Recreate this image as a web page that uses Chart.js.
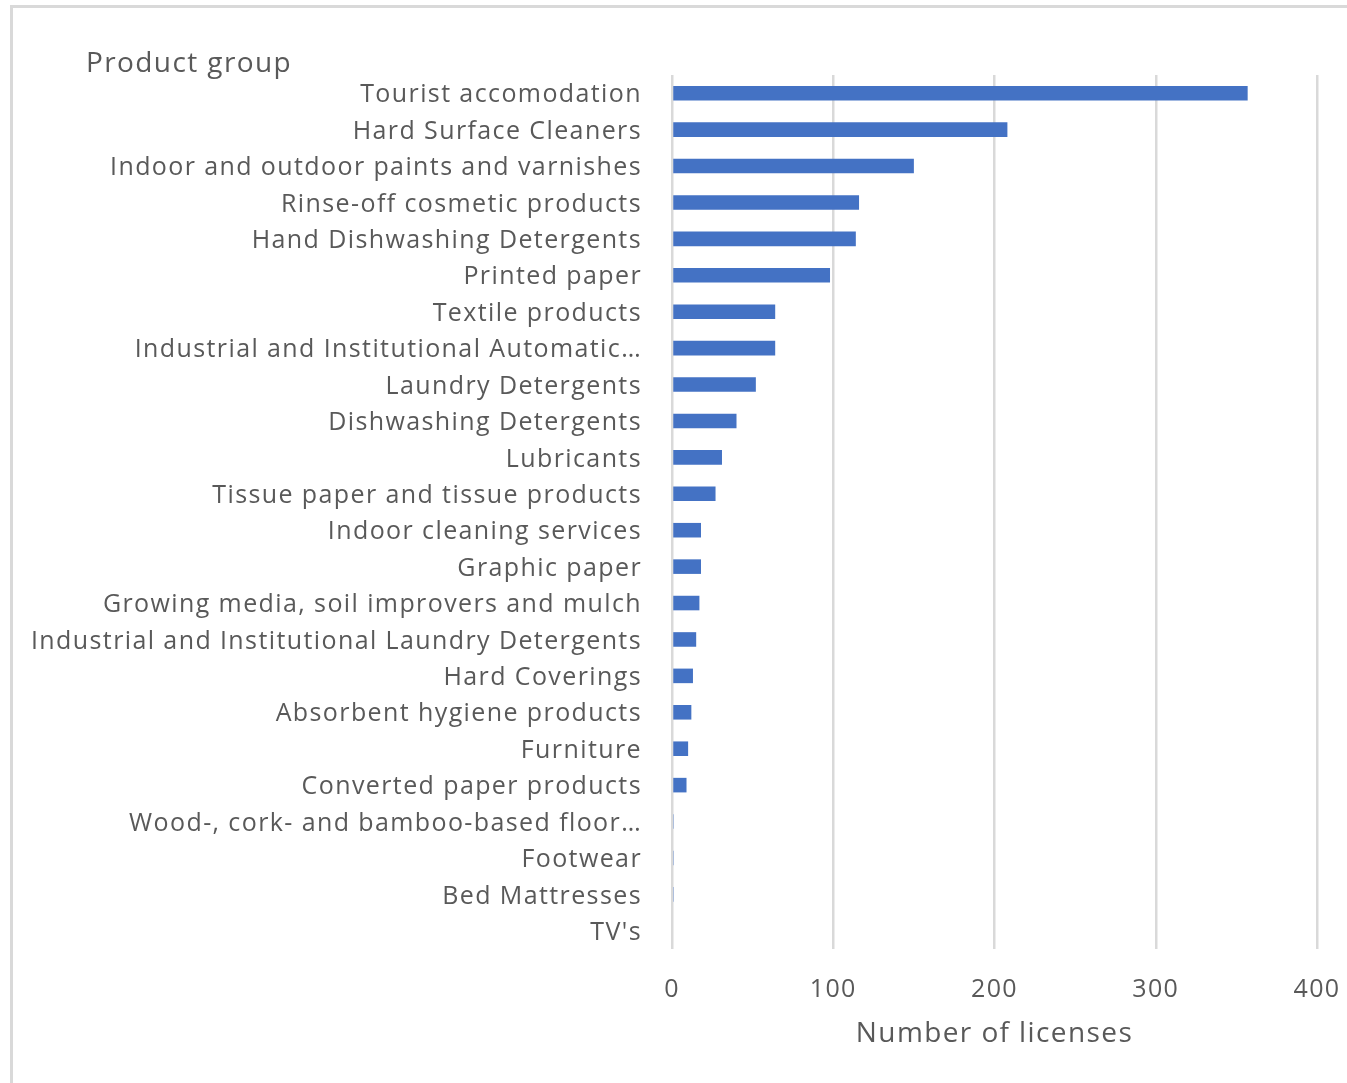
<!DOCTYPE html>
<html><head><meta charset="utf-8">
<script src="https://cdn.jsdelivr.net/npm/chart.js@4/dist/chart.umd.min.js"></script>
<style>
html,body{margin:0;padding:0;background:#fff;overflow:hidden}
#frame{position:absolute;left:10px;top:5px;width:1400px;height:1200px;border:3px solid #d9d9d9;box-sizing:border-box}
#wrap{position:absolute;left:0;top:0;width:1347px;height:1083px}
</style></head><body>
<div id="frame"></div>
<div id="wrap"><canvas id="c"></canvas></div>
<script>
const categories = [
  "Tourist accomodation",
  "Hard Surface Cleaners",
  "Indoor and outdoor paints and varnishes",
  "Rinse-off cosmetic products",
  "Hand Dishwashing Detergents",
  "Printed paper",
  "Textile products",
  "Industrial and Institutional Automatic…",
  "Laundry Detergents",
  "Dishwashing Detergents",
  "Lubricants",
  "Tissue paper and tissue products",
  "Indoor cleaning services",
  "Graphic paper",
  "Growing media, soil improvers and mulch",
  "Industrial and Institutional Laundry Detergents",
  "Hard Coverings",
  "Absorbent hygiene products",
  "Furniture",
  "Converted paper products",
  "Wood-, cork- and bamboo-based floor…",
  "Footwear",
  "Bed Mattresses",
  "TV's"
];
const licenses = [357, 208, 150, 116, 114, 98, 64, 64, 52, 40, 31, 27, 18, 18, 17, 15, 13, 12, 10, 9, 1, 1, 1, 0];
const xTickValues = [0, 100, 200, 300, 400];
const yAxisTitle = "Product group";
const xAxisTitle = "Number of licenses";

const FONT = "'Open Sans'";
const FS = 25;
const TITLE_FS = 28;
const TXT = "#595959";
const SPACING = "1.4px";

const spacingPlugin = {
  id: 'letterSpacing',
  beforeUpdate(chart) { chart.ctx.letterSpacing = SPACING; },
  beforeDraw(chart) { chart.ctx.letterSpacing = SPACING; }
};

const yTitlePlugin = {
  id: 'yTitleTop',
  afterDraw(chart) {
    const ctx = chart.ctx;
    ctx.save();
    ctx.letterSpacing = SPACING;
    ctx.font = TITLE_FS + "px " + FONT;
    ctx.fillStyle = TXT;
    ctx.textAlign = 'left';
    ctx.textBaseline = 'middle';
    ctx.fillText(yAxisTitle, 86, 64);
    ctx.restore();
  }
};

new Chart(document.getElementById('c'), {
  type: 'bar',
  data: {
    labels: categories,
    datasets: [{
      data: licenses,
      backgroundColor: '#4472c4',
      barPercentage: 0.4,
      categoryPercentage: 1.0
    }]
  },
  plugins: [spacingPlugin, yTitlePlugin],
  options: {
    indexAxis: 'y',
    responsive: true,
    maintainAspectRatio: false,
    animation: false,
    layout: { padding: { top: 75, right: 0, left: 0, bottom: 0 } },
    plugins: { legend: { display: false }, tooltip: { enabled: false }, title: { display: false } },
    scales: {
      x: {
        min: 0, max: 400,
        afterBuildTicks(s) { s.ticks = xTickValues.map(v => ({ value: v })); },
        afterFit(s) { s.height = 134; s.paddingRight = 30; s.paddingLeft = 0; },
        ticks: { font: { family: FONT, size: FS }, color: TXT, padding: 26, maxRotation: 0 },
        grid: { color: '#d9d9d9', lineWidth: 2.5, drawTicks: false },
        border: { display: false },
        title: { display: true, text: xAxisTitle, font: { family: FONT, size: TITLE_FS }, color: TXT, padding: { top: 0, bottom: 32 } }
      },
      y: {
        afterFit(s) { s.width = 672; },
        ticks: { font: { family: FONT, size: FS }, color: TXT, padding: 30, autoSkip: false, labelOffset: 2 },
        grid: { display: false, drawTicks: false },
        border: { display: false }
      }
    }
  }
});
</script>
</body></html>
